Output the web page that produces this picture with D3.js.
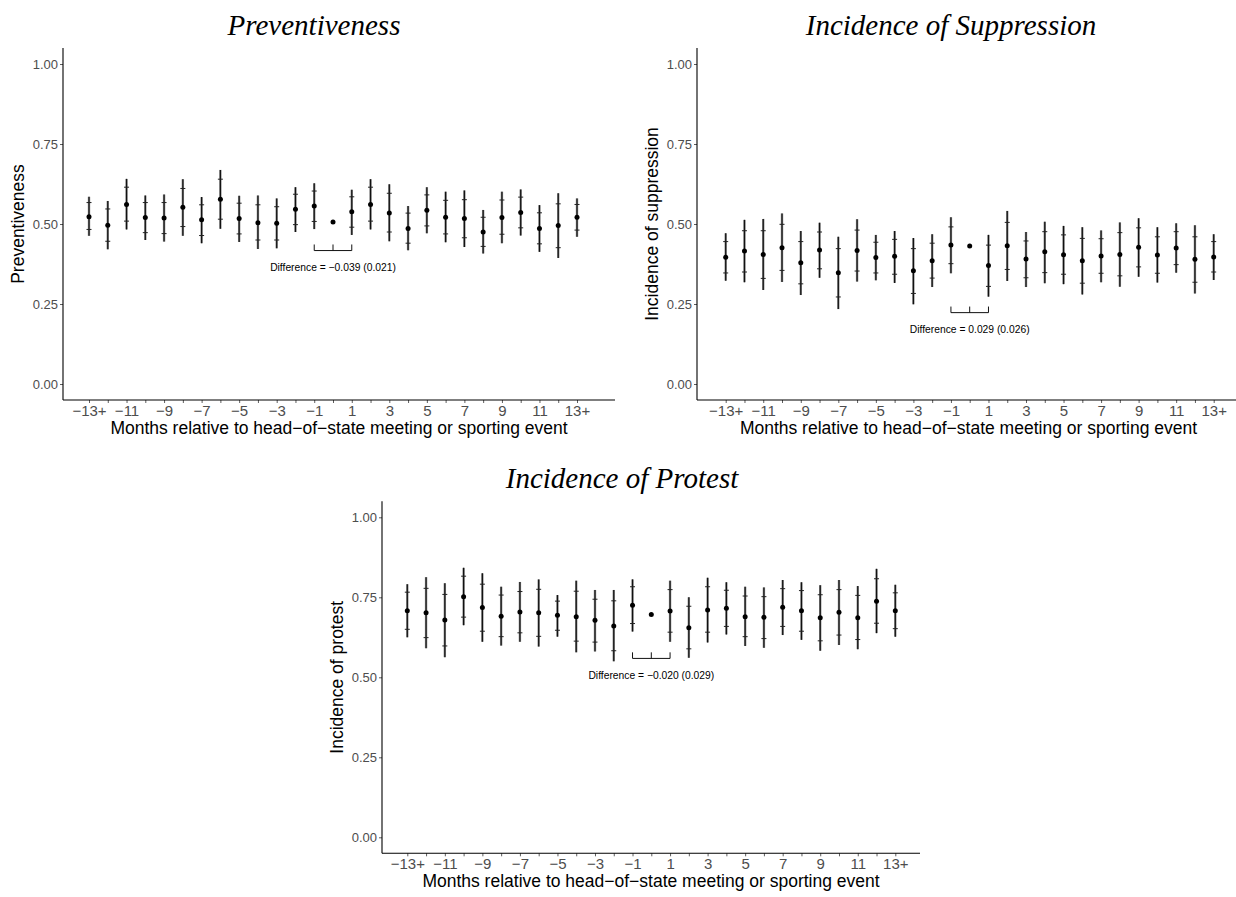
<!DOCTYPE html>
<html>
<head>
<meta charset="utf-8">
<script src="https://cdn.jsdelivr.net/npm/d3@7"></script>
<style>
  html, body { margin: 0; padding: 0; background: #fff; }
  svg { display: block; }
  .tick text { font-family: "Liberation Sans", Arial, sans-serif; }
</style>
</head>
<body>
<svg id="chart" width="1236" height="897"></svg>
<script>
// Months relative to the event (27 positions, binned at the ends)
const months = ["-13+","-12","-11","-10","-9","-8","-7","-6","-5","-4","-3","-2","-1","0",
                "1","2","3","4","5","6","7","8","9","10","11","12","13+"];
const labelledMonths = ["-13+","-11","-9","-7","-5","-3","-1","1","3","5","7","9","11","13+"];
const yTicks = [0, 0.25, 0.5, 0.75, 1];

// Preventiveness
const prevEst   = [0.523,0.496,0.561,0.520,0.519,0.552,0.513,0.577,0.517,0.504,0.502,0.546,0.556,0.506,
                   0.538,0.561,0.534,0.486,0.543,0.521,0.517,0.475,0.520,0.536,0.486,0.495,0.521];
const prevLo    = [0.463,0.421,0.483,0.450,0.445,0.463,0.440,0.485,0.444,0.422,0.424,0.475,0.484,null,
                   0.466,0.483,0.446,0.418,0.471,0.443,0.428,0.408,0.440,0.464,0.413,0.394,0.460];
const prevHi    = [0.585,0.572,0.641,0.589,0.592,0.640,0.584,0.669,0.588,0.589,0.580,0.615,0.627,null,
                   0.607,0.640,0.624,0.556,0.615,0.601,0.605,0.544,0.601,0.608,0.559,0.596,0.580];
const prevCapLo = [0.483,0.446,0.509,0.473,0.470,0.492,0.464,0.515,0.469,0.450,0.450,0.498,0.508,null,
                   0.490,0.509,0.475,0.440,0.494,0.469,0.457,0.430,0.468,0.488,0.438,0.426,0.481];
const prevCapHi = [0.567,0.547,0.615,0.567,0.567,0.611,0.560,0.640,0.565,0.560,0.554,0.593,0.603,null,
                   0.585,0.615,0.596,0.534,0.591,0.574,0.576,0.521,0.575,0.584,0.535,0.563,0.561];

// Incidence of suppression
const suppEst   = [0.396,0.416,0.405,0.426,0.379,0.419,0.348,0.417,0.395,0.399,0.354,0.385,0.434,0.431,
                   0.370,0.432,0.391,0.413,0.404,0.385,0.400,0.405,0.427,0.403,0.425,0.390,0.397];
const suppLo    = [0.323,0.318,0.294,0.319,0.278,0.332,0.234,0.320,0.324,0.316,0.249,0.303,0.346,null,
                   0.273,0.322,0.303,0.315,0.312,0.280,0.318,0.304,0.335,0.317,0.348,0.283,0.325];
const suppHi    = [0.471,0.513,0.516,0.533,0.478,0.504,0.460,0.515,0.466,0.478,0.456,0.468,0.521,null,
                   0.466,0.541,0.475,0.507,0.494,0.490,0.480,0.505,0.518,0.490,0.502,0.496,0.468];
const suppCapLo = [0.347,0.350,0.330,0.355,0.313,0.360,0.272,0.353,0.347,0.343,0.283,0.331,0.376,null,
                   0.305,0.358,0.332,0.348,0.343,0.315,0.346,0.338,0.366,0.346,0.373,0.318,0.350];
const suppCapHi = [0.445,0.479,0.479,0.499,0.445,0.475,0.423,0.481,0.443,0.452,0.423,0.440,0.491,null,
                   0.434,0.505,0.447,0.476,0.466,0.455,0.454,0.473,0.488,0.460,0.476,0.460,0.445];

// Incidence of protest
const protEst   = [0.708,0.702,0.679,0.752,0.718,0.691,0.704,0.702,0.694,0.689,0.678,0.660,0.725,0.696,
                   0.707,0.655,0.710,0.716,0.689,0.688,0.719,0.708,0.686,0.703,0.686,0.738,0.708];
const protLo    = [0.625,0.591,0.563,0.663,0.611,0.599,0.611,0.596,0.627,0.578,0.581,0.550,0.643,null,
                   0.611,0.561,0.609,0.634,0.598,0.592,0.632,0.617,0.583,0.601,0.588,0.638,0.627];
const protHi    = [0.791,0.813,0.794,0.842,0.825,0.783,0.798,0.806,0.757,0.802,0.773,0.773,0.806,null,
                   0.802,0.750,0.811,0.797,0.783,0.781,0.804,0.797,0.788,0.804,0.785,0.839,0.789];
const protCapLo = [0.650,0.624,0.598,0.688,0.644,0.627,0.639,0.628,0.647,0.613,0.610,0.583,0.668,null,
                   0.641,0.589,0.641,0.659,0.627,0.621,0.659,0.644,0.614,0.632,0.618,0.669,0.652];
const protCapHi = [0.766,0.778,0.759,0.816,0.791,0.757,0.768,0.775,0.738,0.769,0.744,0.739,0.783,null,
                   0.774,0.722,0.783,0.772,0.754,0.752,0.777,0.771,0.758,0.774,0.756,0.808,0.764];

// Pre/post comparison labels
const diffLabels = ["Difference = \u22120.039 (0.021)",
                    "Difference = 0.029 (0.026)",
                    "Difference = \u22120.020 (0.029)"];

const svg = d3.select("#chart");
const FONT = "'Liberation Sans', Arial, Helvetica, sans-serif";

function rows(est, lo, hi, capLo, capHi) {
  return months.map((m, i) => ({ m, est: est[i], lo: lo[i], hi: hi[i], capLo: capLo[i], capHi: capHi[i] }));
}

function drawPanel(p) {
  const g = svg.append("g");
  const x = d3.scalePoint().domain(months).range([p.firstX, p.lastX]);
  const y = d3.scaleLinear().domain([-0.05, 1.05]).range([p.bottom, p.top]);

  // title
  g.append("text")
    .attr("x", p.titleX).attr("y", p.top - 13)
    .attr("text-anchor", "middle")
    .attr("font-family", "'Liberation Serif', 'Times New Roman', serif")
    .attr("font-style", "italic")
    .attr("font-size", 29)
    .text(p.title);

  // y axis
  const yAxis = g.append("g")
    .attr("transform", `translate(${p.left},0)`)
    .call(d3.axisLeft(y).tickValues(yTicks).tickFormat(d3.format(".2f")).tickSize(3).tickSizeOuter(0));
  yAxis.select(".domain").remove();
  yAxis.selectAll(".tick line").attr("stroke", "#333").attr("stroke-width", 0.8);
  yAxis.selectAll(".tick text").attr("fill", "#4d4d4d").attr("font-size", 13).attr("x", -5);
  g.append("line")
    .attr("x1", p.left).attr("x2", p.left).attr("y1", p.top).attr("y2", p.bottom)
    .attr("stroke", "#000").attr("stroke-width", 1.1);

  // x axis
  const xAxis = g.append("g")
    .attr("transform", `translate(0,${p.bottom})`)
    .call(d3.axisBottom(x).tickSize(3).tickSizeOuter(0)
      .tickFormat(d => labelledMonths.includes(d) ? d.replace("-", "\u2212") : ""));
  xAxis.select(".domain").remove();
  xAxis.selectAll(".tick line").attr("stroke", "#333").attr("stroke-width", 0.8);
  xAxis.selectAll(".tick text").attr("fill", "#4d4d4d").attr("font-size", 15).attr("y", 5);
  g.append("line")
    .attr("x1", p.left).attr("x2", p.right).attr("y1", p.bottom).attr("y2", p.bottom)
    .attr("stroke", "#000").attr("stroke-width", 1.1);

  // axis titles
  g.append("text")
    .attr("x", (p.left + p.right) / 2).attr("y", p.bottom + 34)
    .attr("text-anchor", "middle").attr("font-family", FONT).attr("font-size", 17.5)
    .text("Months relative to head\u2212of\u2212state meeting or sporting event");
  g.append("text")
    .attr("transform", `translate(${p.left - 39},${(p.top + p.bottom) / 2}) rotate(-90)`)
    .attr("text-anchor", "middle").attr("font-family", FONT).attr("font-size", 17.5)
    .text(p.yTitle);

  const withCI = p.data.filter(d => d.lo != null);

  // outer intervals (grey) and inner lines (black)
  g.selectAll(".ci-outer").data(withCI).join("line")
    .attr("x1", d => x(d.m)).attr("x2", d => x(d.m))
    .attr("y1", d => y(d.lo)).attr("y2", d => y(d.hi))
    .attr("stroke", "#8c8c8c").attr("stroke-width", 2.4);
  g.selectAll(".ci-inner").data(withCI).join("line")
    .attr("x1", d => x(d.m)).attr("x2", d => x(d.m))
    .attr("y1", d => y(d.lo)).attr("y2", d => y(d.hi))
    .attr("stroke", "#111").attr("stroke-width", 1.2);

  // caps
  const caps = withCI.flatMap(d => [{ m: d.m, v: d.capLo }, { m: d.m, v: d.capHi }]);
  g.selectAll(".cap").data(caps).join("line")
    .attr("x1", d => x(d.m) - 2.5).attr("x2", d => x(d.m) + 2.5)
    .attr("y1", d => y(d.v)).attr("y2", d => y(d.v))
    .attr("stroke", "#222").attr("stroke-width", 1);

  // point estimates
  g.selectAll(".pt").data(p.data).join("circle")
    .attr("cx", d => x(d.m)).attr("cy", d => y(d.est)).attr("r", 2.5)
    .attr("fill", "#000");

  // comparison bracket between month -1 and month 1
  const xa = x("-1"), xb = x("1"), xm = x("0");
  const yb = y(p.bracket), yt = y(p.bracket + 0.019);
  g.append("path")
    .attr("d", `M${xa},${yt}V${yb}H${xb}V${yt}M${xm},${yb}V${yt}`)
    .attr("fill", "none").attr("stroke", "#111").attr("stroke-width", 1);
  g.append("text")
    .attr("x", xm).attr("y", y(p.bracket - 0.064))
    .attr("text-anchor", "middle").attr("font-family", FONT).attr("font-size", 10.3)
    .text(p.diff);
}

drawPanel({
  title: "Preventiveness", yTitle: "Preventiveness", titleX: 314,
  left: 63, right: 615, firstX: 89, lastX: 577, top: 48, bottom: 400,
  data: rows(prevEst, prevLo, prevHi, prevCapLo, prevCapHi),
  bracket: 0.417, diff: diffLabels[0]
});
drawPanel({
  title: "Incidence of Suppression", yTitle: "Incidence of suppression", titleX: 951,
  left: 697, right: 1240, firstX: 725.7, lastX: 1213.7, top: 48, bottom: 400,
  data: rows(suppEst, suppLo, suppHi, suppCapLo, suppCapHi),
  bracket: 0.223, diff: diffLabels[1]
});
drawPanel({
  title: "Incidence of Protest", yTitle: "Incidence of protest", titleX: 622,
  left: 382, right: 920, firstX: 407.3, lastX: 895.3, top: 501.3, bottom: 853.3,
  data: rows(protEst, protLo, protHi, protCapLo, protCapHi),
  bracket: 0.559, diff: diffLabels[2]
});
</script>
</body>
</html>
